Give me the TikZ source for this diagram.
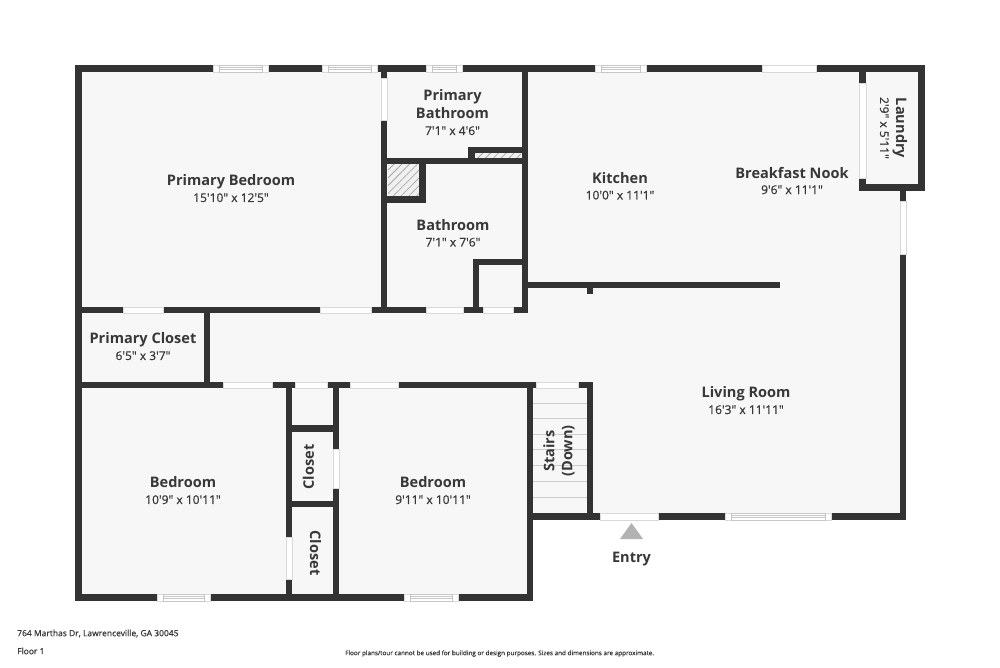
\documentclass[tikz,border=0pt]{standalone}
\usepackage{fontspec}
\usetikzlibrary{patterns.meta}
\newfontfamily\planfont{Open Sans}
\newfontfamily\dimfont[FakeBold=0.6]{Open Sans}
\definecolor{wallc}{HTML}{333333}
\definecolor{floorc}{HTML}{F7F7F7}
\definecolor{textc}{HTML}{383838}
\newcommand{\namestyle}{\planfont\bfseries\fontsize{14.55}{18}\selectfont}
\newcommand{\dimstyle}{\dimfont\mdseries\fontsize{12}{17}\selectfont}
\newcommand{\roomtext}[2]{#1\\[-2pt]\dimstyle #2}
\tikzset{
	wall/.style={draw=wallc,line width=6.3pt},
	opening/.style={fill=white,draw=black!15,line width=0.5pt},
	sash/.style={draw=black!22,line width=0.4pt},
	tread/.style={draw=black!20,line width=0.6pt},
	roomlabel/.style={align=center,text=textc,inner sep=0pt,font=\namestyle},
	footlabel/.style={anchor=west,text=textc,inner sep=0pt,font=\dimfont\fontsize{8.5}{10}\selectfont}
}
\begin{document}
\begin{tikzpicture}[x=1pt,y=-1pt]
	\useasboundingbox (0,0) rectangle (1000,667);
	\fill[white] (0,0) rectangle (1000,667);
	\fill[floorc] (78,68) -- (922,68) -- (922,188) -- (903,188) -- (903,517) -- (530,517) -- (530,598) -- (78,598) -- cycle;
	% stairs
	\foreach \ty in {403,418,434,449,465,481,497}{
		\draw[tread] (533,\ty) -- (587,\ty);
	}
	% hatched shafts
	\fill[black!6] (388,164) rectangle (419.5,196);
	\fill[pattern={Lines[angle=45,distance=5.5pt,line width=0.6pt]},pattern color=black!40] (388,164) rectangle (419.5,196);
	\fill[black!6] (475,153) rectangle (521,158);
	\fill[pattern={Lines[angle=45,distance=5.5pt,line width=0.6pt]},pattern color=black!40] (475,153) rectangle (521,158);
	% horizontal walls
	\foreach \ym/\xa/\xb in {68.5/75/925,597.5/75/533,310/75/528,161/381/528,150/469/528,199.5/381/426,262/473/528,285/525/780,385/75/593,428.5/289/336,504/289/336,516.5/527/906,187.5/859/925}{
		\draw[wall] (\xa,\ym) -- (\xb,\ym);
	}
	% vertical walls
	\foreach \xm/\ya/\yb in {78.5/65/601,530/382/601,384/65/313,525/65/313,471.5/147/161,422.5/161/203,476/259/313,590/285/294,207/310/385,289/385/598,336/385/598,590/382/520,903/188/520,921.5/65/191,862.5/65/191}{
		\draw[wall] (\xm,\ya) -- (\xm,\yb);
	}
	% plain openings
	\foreach \ym/\xa/\xb in {68.5/762/816,310/123/163,310/320/371,310/426/463,310/483/513,385/223/272,385/295/327,385/350/398,385/536/578,516.5/600/658}{
		\draw[opening] (\xa,\ym-3.25) rectangle (\xb,\ym+3.25);
	}
	\foreach \xm/\ya/\yb in {384/78/120,862.5/83/178,903/201/254,289/537/579,336/449/488}{
		\draw[opening] (\xm-3.25,\ya) rectangle (\xm+3.25,\yb);
	}
	% windows
	\foreach \ym/\xa/\xb in {68.5/213/268,68.5/322/377,68.5/426/462,68.5/595/646,597.5/157/210,597.5/404/458,516.5/725/831}{
		\draw[opening] (\xa,\ym-3.25) rectangle (\xb,\ym+3.25);
		\draw[sash] (\xa+6,\ym-3.25) rectangle (\xb-6,\ym+3.25);
		\draw[sash] (\xa+6,\ym-1) -- (\xb-6,\ym-1);
		\draw[sash] (\xa+6,\ym+1) -- (\xb-6,\ym+1);
	}
	% room names
	\node[roomlabel] (primarybed) at (231,188.5) {\roomtext{Primary Bedroom}{15'10" x 12'5"}};
	\node[roomlabel] (primarybath) at (452.5,112.5) {\roomtext{Primary\\Bathroom}{7'1" x 4'6"}};
	\node[roomlabel] (bathroom) at (453,233) {\roomtext{Bathroom}{7'1" x 7'6"}};
	\node[roomlabel] (kitchen) at (620,186) {\roomtext{Kitchen}{10'0" x 11'1"}};
	\node[roomlabel] (nook) at (792,180.5) {\roomtext{Breakfast Nook}{9'6" x 11'1"}};
	\node[roomlabel] (living) at (746,400.5) {\roomtext{Living Room}{16'3" x 11'11"}};
	\node[roomlabel] (closetmain) at (143,346.5) {\roomtext{Primary Closet}{6'5" x 3'7"}};
	\node[roomlabel] (bedleft) at (183,490.5) {\roomtext{Bedroom}{10'9" x 10'11"}};
	\node[roomlabel] (bedright) at (433,490.5) {\roomtext{Bedroom}{9'11" x 10'11"}};
	\node[roomlabel,rotate=-90] (laundry) at (893.5,128) {\roomtext{Laundry}{2'9" x 5'11"}};
	\node[roomlabel,rotate=90] (stairs) at (559,451) {Stairs\\(Down)};
	\node[roomlabel,rotate=90] (closetup) at (308.5,467) {Closet};
	\node[roomlabel,rotate=-90] (closetdown) at (315.5,553) {Closet};
	% entry
	\fill[black!30] (631.5,523) -- (643,539) -- (620,539) -- cycle;
	\node[roomlabel] (entry) at (631.5,559.5) {Entry};
	% footer
	\node[footlabel] (address) at (17,633.5) {764 Marthas Dr, Lawrenceville, GA 30045};
	\node[footlabel] (floor) at (17,651) {Floor 1};
	\node[footlabel,font=\dimfont\fontsize{6.35}{7}\selectfont] (disclaimer) at (345,653.5) {Floor plans/tour cannot be used for building or design purposes. Sizes and dimensions are approximate.};
\end{tikzpicture}
\end{document}
